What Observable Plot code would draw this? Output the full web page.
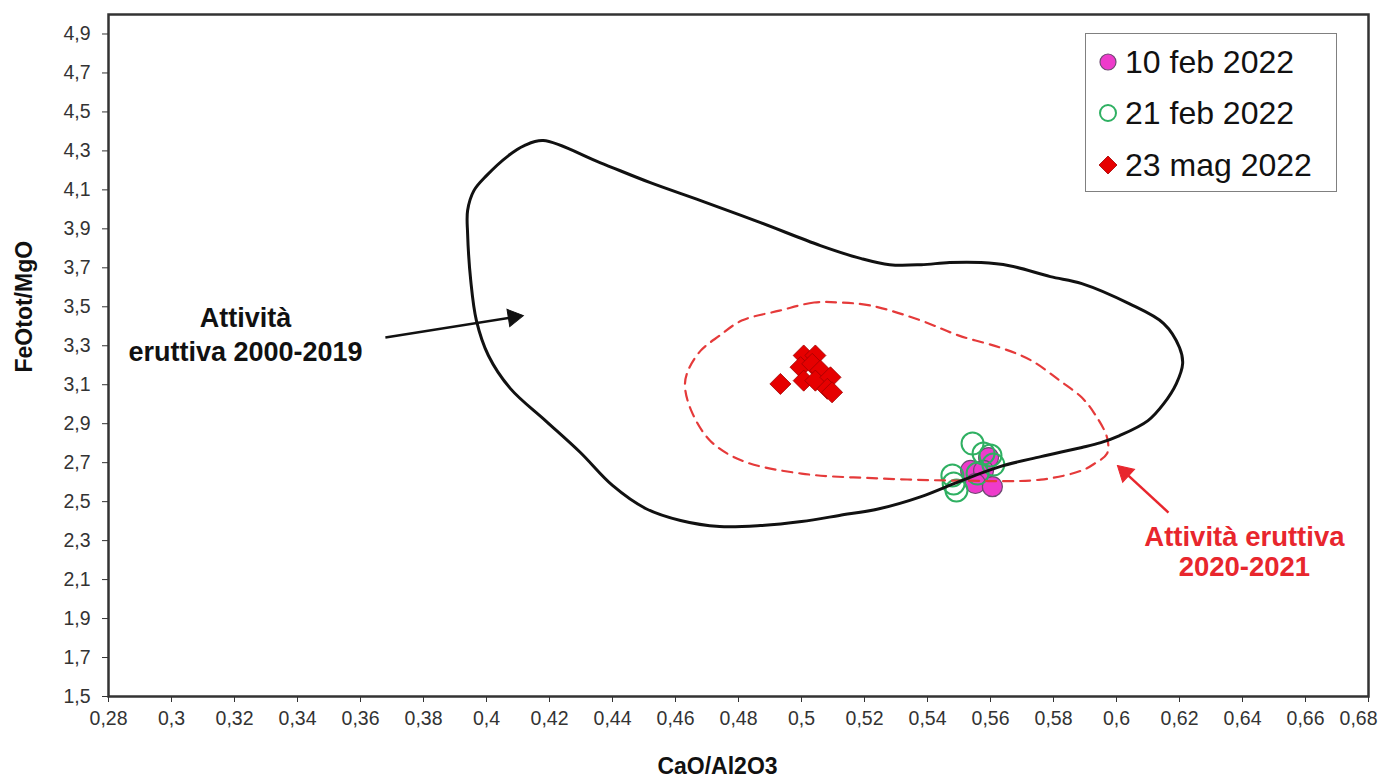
<!DOCTYPE html>
<html><head><meta charset="utf-8">
<script src="https://cdn.jsdelivr.net/npm/d3@7"></script>
<script src="https://cdn.jsdelivr.net/npm/@observablehq/plot@0.6"></script>
<style>
body{margin:0;background:#fff;font-family:Arial,"Liberation Sans",sans-serif;}
#wrap{position:relative;width:1380px;height:784px;overflow:hidden;}
#legend{position:absolute;left:1085px;top:33px;width:250px;height:157px;border:1.5px solid #808080;background:#fff;}
.row{position:absolute;left:12px;height:40px;display:flex;align-items:center;font-size:32px;color:#111;white-space:nowrap;}
.row svg{margin-right:7px;flex:none;}
</style></head><body><div id="wrap"><div id="legend"></div></div>
<script>
// ---- data ----
const xTicks = [0.28,0.30,0.32,0.34,0.36,0.38,0.40,0.42,0.44,0.46,0.48,0.50,0.52,0.54,0.56,0.58,0.60,0.62,0.64,0.66,0.68];
const xTickLast = [0.68];
const yTicks = [1.5,1.7,1.9,2.1,2.3,2.5,2.7,2.9,3.1,3.3,3.5,3.7,3.9,4.1,4.3,4.5,4.7,4.9];

const seriesNames = ["10 feb 2022","21 feb 2022","23 mag 2022"];

const feb10X = [0.5594,0.5537,0.5578,0.5552,0.5606];
const feb10Y = [2.726,2.660,2.660,2.593,2.577];

const feb21X = [0.5543,0.5578,0.5600,0.5609,0.5479,0.5483,0.5492,0.5559];
const feb21Y = [2.798,2.747,2.737,2.690,2.634,2.593,2.557,2.644];

const mag23X = [0.4933,0.5007,0.5044,0.4997,0.5034,0.5060,0.5007,0.5044,0.5092,0.5082,0.5097];
const mag23Y = [3.104,3.250,3.250,3.190,3.207,3.173,3.121,3.121,3.138,3.079,3.061];

// field of eruptive activity 2000-2019 (closed outline)
const field0019X = [0.418,0.436,0.452,0.468,0.487,0.506,0.519,0.528,0.538,0.547,0.557,0.566,0.579,0.589,0.604,0.615,0.620,0.621,0.619,0.615,0.610,0.601,0.595,0.589,0.576,0.563,0.550,0.538,0.525,0.512,0.500,0.487,0.474,0.4616,0.4505,0.440,0.4298,0.4187,0.4076,0.4006,0.3968,0.395,0.394,0.394,0.396,0.400,0.407,0.412];
const field0019Y = [4.353,4.240,4.137,4.045,3.932,3.814,3.747,3.716,3.716,3.727,3.727,3.711,3.655,3.619,3.516,3.414,3.291,3.209,3.106,3.003,2.916,2.839,2.803,2.778,2.731,2.680,2.603,2.526,2.465,2.429,2.398,2.377,2.372,2.403,2.465,2.583,2.752,2.916,3.080,3.250,3.429,3.634,3.876,3.994,4.096,4.173,4.276,4.327];

// field of eruptive activity 2020-2021 (closed dashed outline)
const field2021X = [0.512,0.504,0.493,0.481,0.474,0.468,0.464,0.463,0.465,0.471,0.481,0.500,0.525,0.550,0.576,0.589,0.593,0.597,0.597,0.593,0.589,0.582,0.573,0.563,0.550,0.538,0.522];
const field2021Y = [3.522,3.522,3.480,3.429,3.352,3.275,3.173,3.096,2.967,2.813,2.711,2.644,2.619,2.608,2.613,2.660,2.695,2.747,2.829,2.952,3.034,3.121,3.224,3.291,3.352,3.429,3.506];

// annotations
const noteBlackLines = ["Attività","eruttiva 2000-2019"];
const noteBlackX = [0.3235,0.3235];
const noteBlackY = [3.439,3.265];
const noteRedLines = ["Attività eruttiva","2020-2021"];
const noteRedX = [0.6406,0.6406];
const noteRedY = [2.320,2.162];
const arrowTailX = [0.3679,0.6165];
const arrowTailY = [3.342,2.444];
const arrowTipX  = [0.4117,0.6003];
const arrowTipY  = [3.455,2.685];
const arrowColors = ["#111111","#e8262d"];

// ---- build ----
const W = 1380, H = 784, mL = 108, mR = 12, mT = 14, mB = 88;
const xDomain = [0.28, 0.68], yDomain = [1.5, 5.0];
const fmt = d => String(+d.toFixed(2)).replace(".", ",");
const fmtNoLast = d => xTickLast.includes(d) ? "" : fmt(d);
const zip = (xs, ys) => xs.map((x, i) => ({x, y: ys[i]}));

const feb10 = zip(feb10X, feb10Y);
const feb21 = zip(feb21X, feb21Y);
const mag23 = zip(mag23X, mag23Y);
const field0019 = zip(field0019X, field0019Y);
const field2021 = zip(field2021X, field2021Y);

// replicate scales to orient the arrowheads
const sx = d3.scaleLinear(xDomain, [mL, W - mR]);
const sy = d3.scaleLinear(yDomain, [H - mB, mT]);
const headR = 6.5;
const tipDist = 2 * Math.sqrt((Math.PI * headR * headR) / (Math.sqrt(3) * 3));
const arrows = arrowTailX.map((_, i) => {
  const px1 = sx(arrowTailX[i]), py1 = sy(arrowTailY[i]);
  const px2 = sx(arrowTipX[i]), py2 = sy(arrowTipY[i]);
  const len = Math.hypot(px2 - px1, py2 - py1);
  const ux = (px2 - px1) / len, uy = (py2 - py1) / len;
  const cx = px2 - ux * tipDist, cy = py2 - uy * tipDist;
  return {
    x1: arrowTailX[i], y1: arrowTailY[i],
    hx: sx.invert(cx), hy: sy.invert(cy),
    rot: Math.atan2(uy, ux) * 180 / Math.PI + 90,
    color: arrowColors[i]
  };
});

const axisOpts = {tickSize: 6, fontSize: 19.5, label: null, stroke: "#333", fill: "#333"};

const chart = Plot.plot({
  width: W, height: H,
  marginLeft: mL, marginRight: mR, marginTop: mT, marginBottom: mB,
  x: {domain: xDomain},
  y: {domain: yDomain},
  style: {fontFamily: "Arial, 'Liberation Sans', sans-serif", fontSize: "19.5px", color: "#333", background: "#fff", overflow: "visible"},
  marks: [
    Plot.axisX({...axisOpts, ticks: xTicks, tickFormat: fmtNoLast, tickPadding: 9}),
    Plot.axisX({...axisOpts, ticks: xTickLast, tickFormat: fmt, tickSize: 0, tickPadding: 15, dx: -10}),
    Plot.axisY({...axisOpts, ticks: yTicks, tickFormat: fmt, tickPadding: 12}),
    Plot.dot(feb10, {x: "x", y: "y", r: 10, fill: "#ee3bcb", stroke: "#6e4a72", strokeWidth: 1.2}),
    Plot.dot(feb21, {x: "x", y: "y", r: 11, fill: "none", stroke: "#2fb062", strokeWidth: 2}),
    Plot.line(field2021, {x: "x", y: "y", curve: "catmull-rom-closed", stroke: "#e53a3a", strokeWidth: 2.2, strokeDasharray: "10,7"}),
    Plot.line(field0019, {x: "x", y: "y", curve: "catmull-rom-closed", stroke: "#111", strokeWidth: 3}),
    Plot.dot(mag23, {x: "x", y: "y", symbol: "diamond2", r: 9.5, fill: "#e60000", stroke: "#a00000", strokeWidth: 0.8}),
    Plot.link(arrows, {x1: "x1", y1: "y1", x2: "hx", y2: "hy", stroke: "color", strokeWidth: 2.5}),
    Plot.dot(arrows, {x: "hx", y: "hy", symbol: "triangle", r: headR, fill: "color", stroke: "color", strokeWidth: 1, rotate: "rot"}),
    Plot.text(noteBlackLines, {x: (d, i) => noteBlackX[i], y: (d, i) => noteBlackY[i], text: d => d, fontSize: 27, fontWeight: "bold", fill: "#111", textAnchor: "middle"}),
    Plot.text(noteRedLines, {x: (d, i) => noteRedX[i], y: (d, i) => noteRedY[i], text: d => d, fontSize: 27.5, fontWeight: "bold", fill: "#e8262d", textAnchor: "middle"}),
    Plot.text(["CaO/Al2O3"], {frameAnchor: "bottom", dy: 77, dx: -21, text: d => d, fontSize: 23, fontWeight: "bold", fill: "#111"}),
    Plot.text(["FeOtot/MgO"], {frameAnchor: "left", dx: -84, dy: 17, rotate: -90, text: d => d, fontSize: 23, fontWeight: "bold", fill: "#111"}),
    Plot.frame({stroke: "#333", strokeWidth: 2.5})
  ]
});
// make sure the tick labels use the intended size
chart.querySelectorAll("text").forEach(t => {
  if (/^\d,\d+$/.test(t.textContent.trim())) t.style.fontSize = "19.5px";
});
const wrap = document.getElementById("wrap");
wrap.insertBefore(chart, wrap.firstChild);

// ---- legend ----
const legend = document.getElementById("legend");
const markers = [
  '<svg width="20" height="20"><circle cx="10" cy="10" r="8" fill="#ee3bcb" stroke="#6e4a72" stroke-width="1.2"/></svg>',
  '<svg width="20" height="20"><circle cx="10" cy="10" r="8" fill="none" stroke="#2fb062" stroke-width="2"/></svg>',
  '<svg width="20" height="20"><path d="M10,1L19,10L10,19L1,10Z" fill="#e60000" stroke="#a00000" stroke-width="0.8"/></svg>'
];
const rowTops = [8, 59, 111];
seriesNames.forEach((name, i) => {
  const row = document.createElement("div");
  row.className = "row";
  row.style.top = rowTops[i] + "px";
  row.innerHTML = markers[i] + "<span>" + name + "</span>";
  legend.appendChild(row);
});
</script>
</body></html>
